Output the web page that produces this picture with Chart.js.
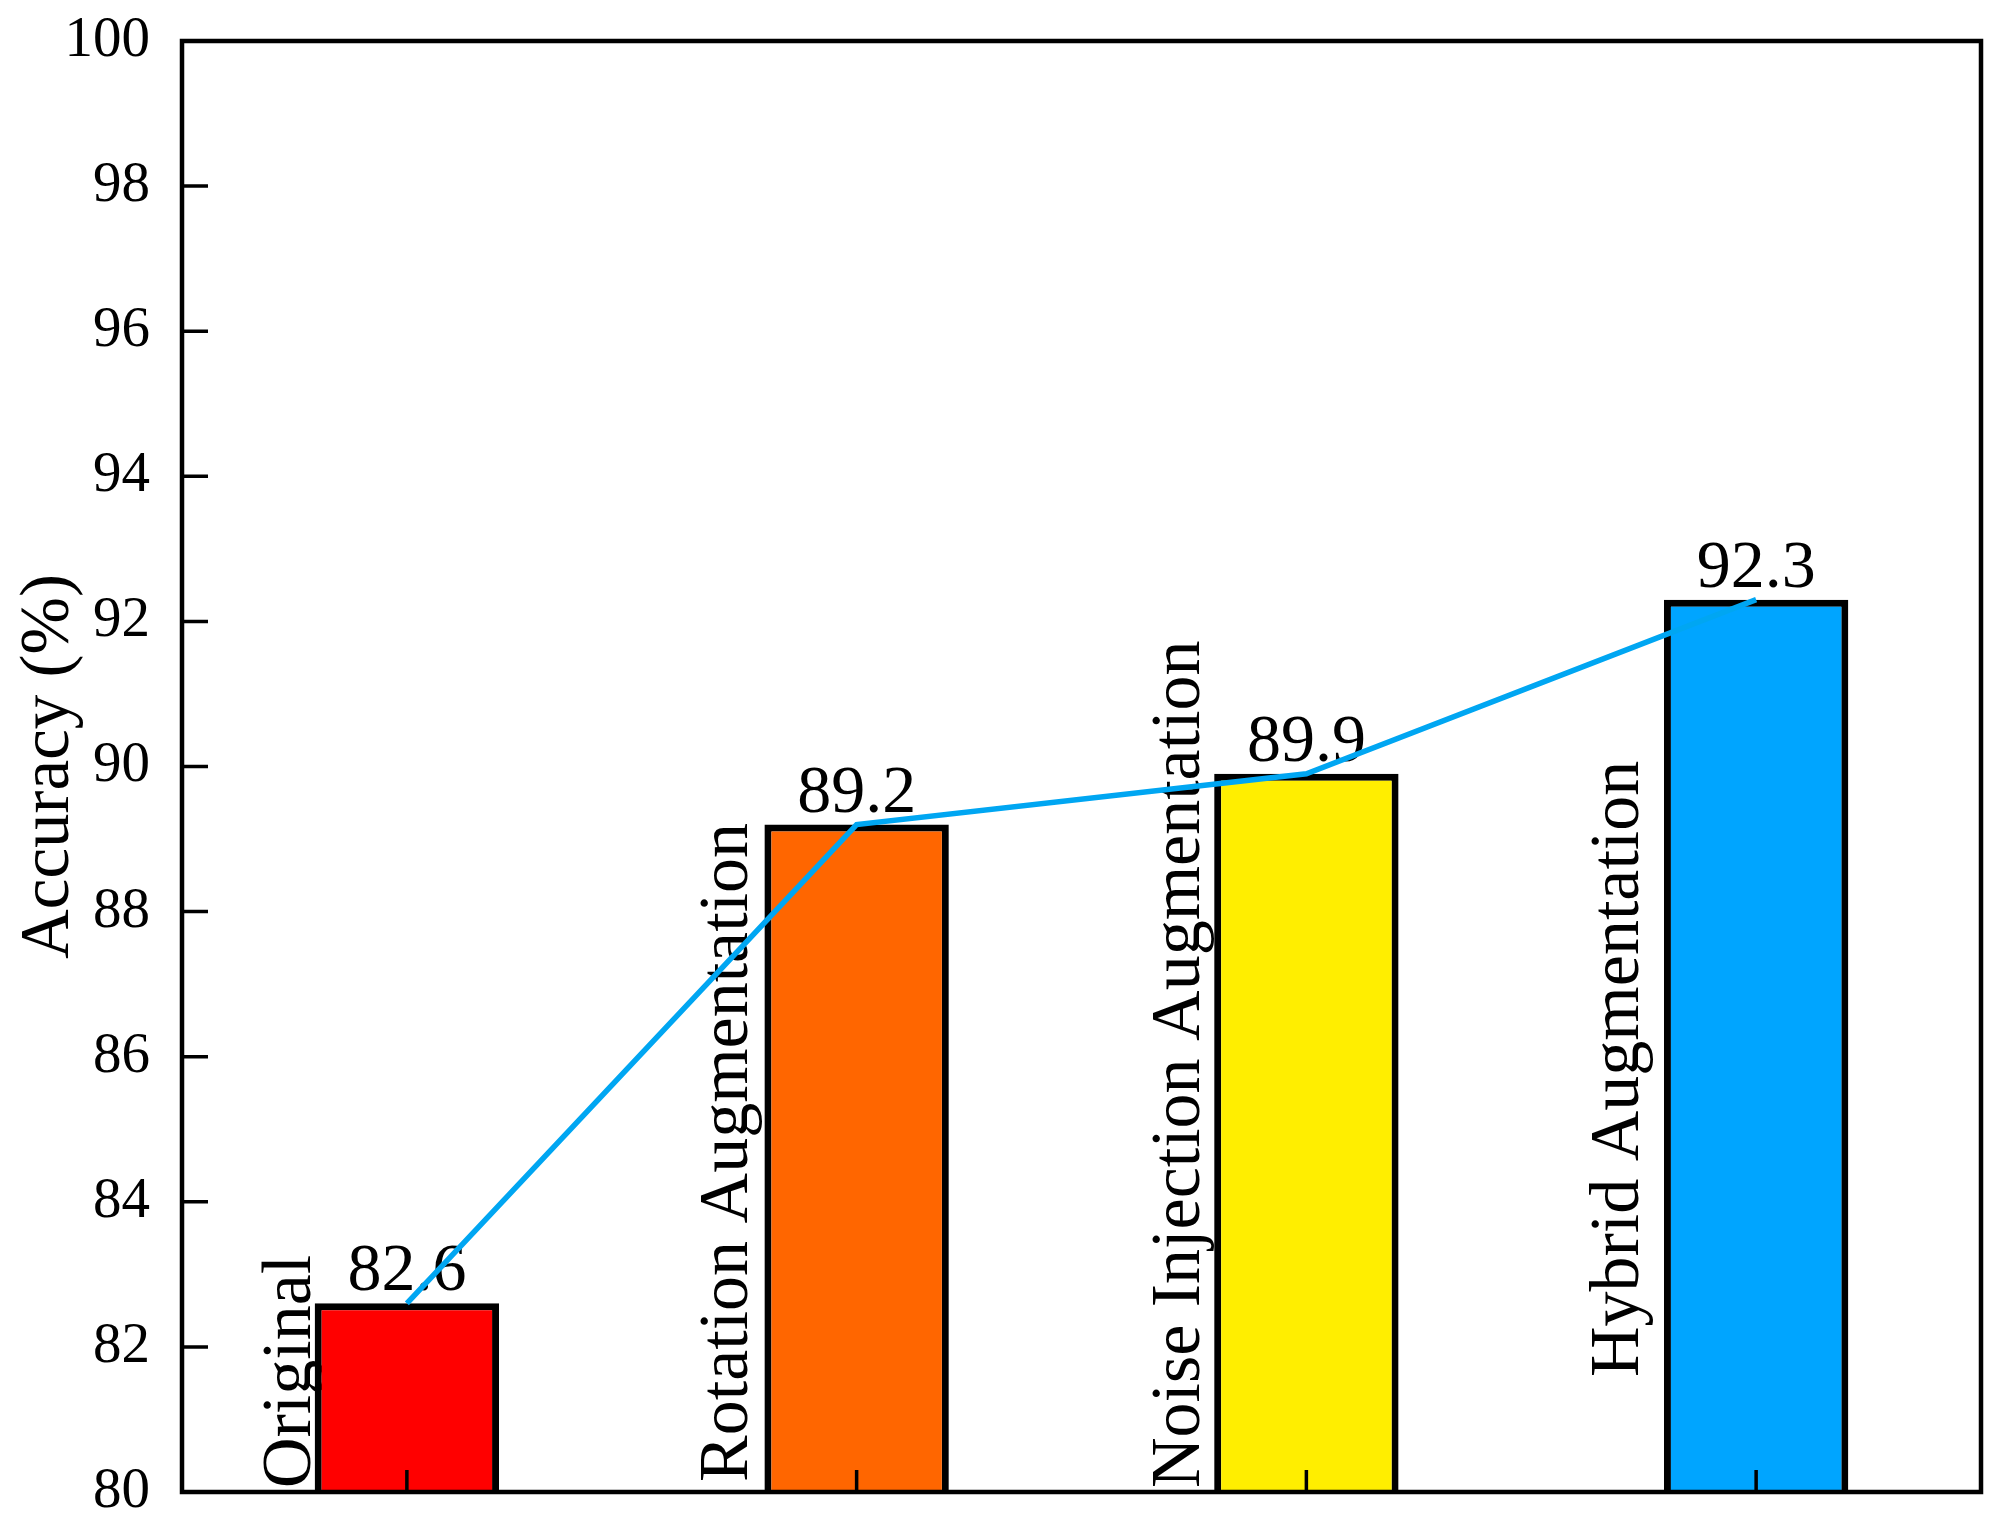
<!DOCTYPE html>
<html>
<head>
<meta charset="utf-8">
<script src="https://cdn.jsdelivr.net/npm/chart.js@4.4.0/dist/chart.umd.min.js"></script>
<style>
  html, body { margin: 0; padding: 0; background: #fff; }
  #wrap { width: 2011px; height: 1535px; }
</style>
</head>
<body>
<div id="wrap"><canvas id="myChart" width="2011" height="1535"></canvas></div>
<script>
// data
var methods = ['Original', 'Rotation Augmentation', 'Noise Injection Augmentation', 'Hybrid Augmentation'];
var accuracy = [82.6, 89.2, 89.9, 92.3];
var barColors = ['#FF0000', '#FF6600', '#FFEE00', '#00A5FF'];
var yTicks = [80, 82, 84, 86, 88, 90, 92, 94, 96, 98, 100];

var serif = "'Liberation Serif', 'Times New Roman', serif";

// labels inside the plot, left of each bar (offset from bar centre, lift from the axis)
var nameShift = [-97, -110, -107, -118];
var nameLift = [4, 10, 4, 115];

var textPlugin = {
  id: 'textPlugin',
  beforeDatasetsDraw: function(chart) {
    var ctx = chart.ctx;
    var x = chart.scales.x, y = chart.scales.y;
    ctx.save();
    ctx.fillStyle = '#000';
    // value labels above bars
    ctx.font = '68px ' + serif;
    ctx.textAlign = 'center';
    ctx.textBaseline = 'alphabetic';
    for (let i = 0; i < accuracy.length; i++) {
      ctx.fillText(accuracy[i].toFixed(1), x.getPixelForValue(i), y.getPixelForValue(accuracy[i]) - 13);
    }
    // rotated category names
    ctx.font = '70px ' + serif;
    for (let i = 0; i < methods.length; i++) {
      ctx.save();
      ctx.translate(x.getPixelForValue(i) + nameShift[i], chart.chartArea.bottom - nameLift[i]);
      ctx.rotate(-Math.PI / 2);
      ctx.textAlign = 'left';
      ctx.fillText(methods[i], 0, 0);
      ctx.restore();
    }
    ctx.restore();
  },
  afterDraw: function(chart) {
    var ctx = chart.ctx;
    var a = chart.chartArea;
    var x = chart.scales.x, y = chart.scales.y;
    ctx.save();
    ctx.strokeStyle = '#000';
    // inward ticks
    ctx.lineWidth = 3.5;
    ctx.beginPath();
    yTicks.forEach(function(v) {
      var py = y.getPixelForValue(v);
      ctx.moveTo(a.left, py);
      ctx.lineTo(a.left + 26, py);
    });
    for (let i = 0; i < methods.length; i++) {
      var px = x.getPixelForValue(i);
      ctx.moveTo(px, a.bottom);
      ctx.lineTo(px, a.bottom - 22);
    }
    ctx.stroke();
    // frame
    ctx.lineWidth = 4.5;
    ctx.strokeRect(a.left, a.top, a.right - a.left, a.bottom - a.top);
    ctx.restore();
  }
};

var myChart = document.getElementById('myChart');
var accChart = new Chart(myChart, {
  type: 'bar',
  data: {
    labels: methods,
    datasets: [{
      type: 'line',
      data: accuracy,
      borderColor: '#00A6F2',
      borderWidth: 5.5,
      pointRadius: 0,
      tension: 0,
      fill: false,
      order: 0
    }, {
      type: 'bar',
      data: accuracy,
      backgroundColor: barColors,
      borderColor: '#000',
      borderWidth: 7,
      borderSkipped: 'bottom',
      categoryPercentage: 0.82,
      barPercentage: 0.5,
      order: 1
    }]
  },
  options: {
    responsive: false,
    animation: false,
    layout: { autoPadding: false, padding: { left: 0, top: 41, right: 30, bottom: 0 } },
    plugins: { legend: { display: false }, tooltip: { enabled: false } },
    scales: {
      x: {
        grid: { display: false, drawTicks: false },
        border: { display: false },
        ticks: { display: false },
        afterFit: function(scale) { scale.height = 43; }
      },
      y: {
        min: 80,
        max: 100,
        afterBuildTicks: function(scale) {
          scale.ticks = yTicks.map(function(v) { return { value: v }; });
        },
        grid: { drawOnChartArea: false, drawTicks: false },
        border: { display: false },
        ticks: {
          padding: 32,
          color: '#000',
          font: { family: serif, size: 57 }
        },
        title: {
          display: true,
          text: 'Accuracy (%)',
          color: '#000',
          font: { family: serif, size: 69 },
          padding: { top: 8, bottom: 0 }
        },
        afterFit: function(scale) {
          scale.width = 182;
          scale.paddingTop = 0;
          scale.paddingBottom = 0;
        }
      }
    }
  },
  plugins: [textPlugin]
});
</script>
</body>
</html>
